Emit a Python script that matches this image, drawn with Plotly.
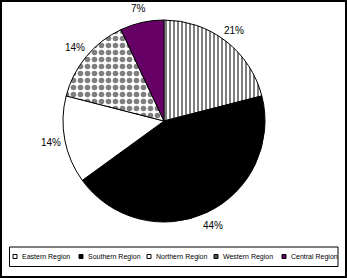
import math
import plotly.graph_objects as go

regions = ["Eastern Region", "Southern Region", "Northern Region", "Western Region", "Central Region"]
shares = [21, 44, 14, 14, 7]
fill_colors = ["white", "black", "white", "white", "#660066"]
legend_swatch = ["white", "black", "white", "#555555", "#660066"]
pattern_shapes = ["|", "", "", ".", ""]

W, H = 347, 278
cx, cy, r = 164, 121, 101
label_r = 115  # distance of percentage labels from pie centre (px)

fig = go.Figure(go.Pie(
    labels=regions,
    values=shares,
    sort=False,
    direction="clockwise",
    rotation=0,
    textinfo="none",
    marker=dict(
        colors=fill_colors,
        line=dict(color="black", width=1),
        pattern=dict(shape=pattern_shapes, fgcolor="black", bgcolor="white",
                     size=[4, 8, 8, 7, 8], solidity=[0.5, 0.3, 0.3, 0.5, 0.3],
                     fillmode="overlay"),
    ),
    domain=dict(x=[(cx - r) / W, (cx + r) / W], y=[(H - cy - r) / H, (H - cy + r) / H]),
    hoverinfo="label+percent",
    showlegend=False,
))

shapes = [
    dict(type="rect", xref="paper", yref="paper",
         x0=1 / W, x1=1 - 1 / W, y0=1 / H, y1=1 - 1 / H,
         line=dict(color="black", width=2), fillcolor="rgba(0,0,0,0)"),
]
annotations = []

# percentage labels outside each slice, at the slice's mid-angle
total = sum(shares)
cum = 0
for v in shares:
    mid = (cum + v / 2) / total * 2 * math.pi
    cum += v
    px = cx + label_r * math.sin(mid)
    py = cy - label_r * math.cos(mid)
    annotations.append(dict(xref="paper", yref="paper", x=px / W, y=1 - py / H,
                            xanchor="center", yanchor="middle", showarrow=False,
                            text=f"{round(v / total * 100)}%",
                            font=dict(family="Liberation Sans, Arial", size=10, color="black")))

# manual legend (single row, tight spacing as in the reference)
box_x0, box_x1, box_y0, box_y1 = 9.5, 338, 247, 266.5
item_x = [13, 79, 147, 214, 282]
sym_y = 256.5
shapes.append(dict(type="rect", xref="paper", yref="paper",
                   x0=box_x0 / W, x1=box_x1 / W, y0=1 - box_y1 / H, y1=1 - box_y0 / H,
                   line=dict(color="black", width=1), fillcolor="white"))
for name, col, x in zip(regions, legend_swatch, item_x):
    shapes.append(dict(type="rect", xref="paper", yref="paper",
                       x0=x / W, x1=(x + 4) / W,
                       y0=1 - (sym_y + 2) / H, y1=1 - (sym_y - 2) / H,
                       line=dict(color="black", width=1), fillcolor=col))
    annotations.append(dict(xref="paper", yref="paper", x=(x + 6.5) / W, y=1 - sym_y / H,
                            xanchor="left", yanchor="middle", showarrow=False,
                            text=name,
                            font=dict(family="Liberation Sans, Arial", size=7, color="black")))

fig.update_layout(
    width=W, height=H,
    margin=dict(l=0, r=0, t=0, b=0),
    paper_bgcolor="white",
    plot_bgcolor="white",
    showlegend=False,
    shapes=shapes,
    annotations=annotations,
)

fig.write_html("out.html")
